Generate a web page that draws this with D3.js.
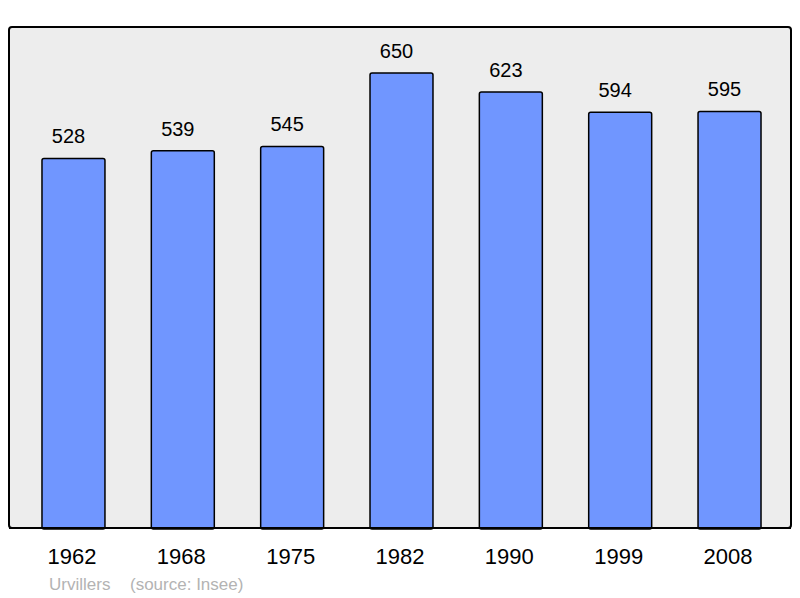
<!DOCTYPE html>
<html><head><meta charset="utf-8">
<script src="https://cdn.jsdelivr.net/npm/d3@7"></script>
<style>body{margin:0;background:#fff}svg{display:block}</style>
</head><body>
<script>
const years = ["1962","1968","1975","1982","1990","1999","2008"];
const population = [528,539,545,650,623,594,595];
const place = "Urvillers";
const source = "(source: Insee)";

const W = 800, H = 598;
const svg = d3.select("body").append("svg").attr("width", W).attr("height", H)
  .style("font-family", "'Liberation Sans', Arial, sans-serif");

const frame = {x0: 9, y0: 27, x1: 791, y1: 528};
svg.append("rect").attr("x", frame.x0).attr("y", frame.y0)
  .attr("width", frame.x1 - frame.x0).attr("height", frame.y1 - frame.y0)
  .attr("rx", 3).attr("fill", "#ededed").attr("stroke", "#000").attr("stroke-width", 2);

const x = d3.scaleBand().domain(years).range([18.8, 784.2]).paddingInner(0.424).paddingOuter(0.212);
const y = d3.scaleLinear().domain([0, 715.714]).range([frame.y1, frame.y0]);

svg.selectAll("rect.bar").data(years).join("rect").attr("class", "bar")
  .attr("x", d => x(d)).attr("width", x.bandwidth())
  .attr("y", (d, i) => y(population[i])).attr("height", (d, i) => frame.y1 - y(population[i]) + 1)
  .attr("rx", 2).attr("fill", "#7096ff").attr("stroke", "#000").attr("stroke-width", 1.5);

svg.selectAll("text.val").data(years).join("text").attr("class", "val")
  .attr("x", d => x(d) + x.bandwidth() / 2 - 5)
  .attr("y", (d, i) => y(population[i]) - 15)
  .attr("text-anchor", "middle").attr("font-size", 20).attr("fill", "#000")
  .text((d, i) => population[i]);

svg.append("line").attr("x1", frame.x0).attr("x2", frame.x1).attr("y1", frame.y1).attr("y2", frame.y1)
  .attr("stroke", "#000").attr("stroke-width", 2);

svg.selectAll("text.year").data(years).join("text").attr("class", "year")
  .attr("x", d => x(d) + x.bandwidth() / 2 - 1.5).attr("y", 564)
  .attr("text-anchor", "middle").attr("font-size", 22).attr("fill", "#000")
  .text(d => d);

svg.append("text").attr("x", 49).attr("y", 590).attr("font-size", 17).attr("fill", "#b3b3b3").text(place);
svg.append("text").attr("x", 130).attr("y", 590).attr("font-size", 17).attr("fill", "#b3b3b3").text(source);
</script>
</body></html>
